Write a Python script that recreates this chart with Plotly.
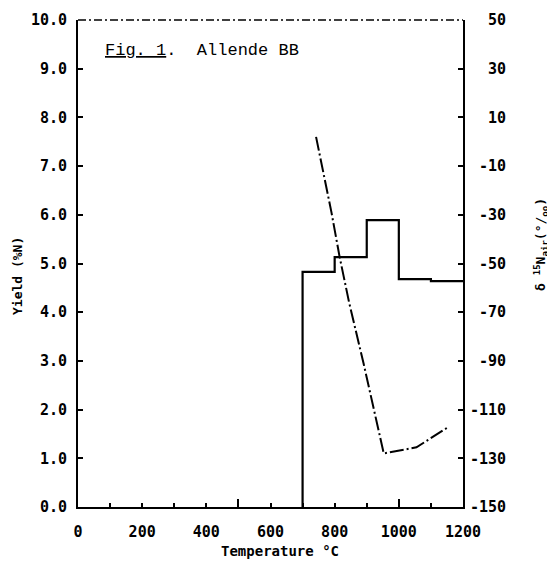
import plotly.graph_objects as go

# Yield step data (%N), temperature steps (deg C)
step_start = [700, 800, 900, 1000, 1100]
step_end = 1200
yield_pct = [4.83, 5.13, 5.89, 4.68, 4.64]

# delta 15N curve (permil) vs temperature
d15_temp = [742, 765, 790, 815, 845, 890, 920, 942, 953, 1055, 1150]
d15_val = [2, -13, -29, -47, -66, -91, -109, -121, -128, -125.5, -117.5]

# tick labels
x_label_vals = [0, 200, 400, 600, 800, 1000, 1200]
y_left_vals = [0, 1, 2, 3, 4, 5, 6, 7, 8, 9, 10]
y_right_vals = [-150, -130, -110, -90, -70, -50, -30, -10, 10, 30, 50]

TICKFONT = dict(family="DejaVu Sans Mono", size=15, color="black", weight=700)

step_x = [step_start[0]] + step_start + [step_end]
step_y = [0] + yield_pct + [yield_pct[-1]]

fig = go.Figure()
fig.add_trace(go.Scatter(x=step_x, y=step_y, mode="lines", line_shape="hv",
                         line=dict(color="black", width=2.2), showlegend=False,
                         hoverinfo="skip"))
fig.add_trace(go.Scatter(x=d15_temp, y=d15_val, mode="lines", xaxis="x2", yaxis="y2",
                         line=dict(color="black", width=2, dash="14px,3px,2px,3px"),
                         showlegend=False, hoverinfo="skip"))

xt_vals = list(range(0, 1201, 100))
xt_text = [str(v) if v in x_label_vals else "" for v in xt_vals]

right_text = [("\u00a0" * (4 - len(str(v)))) + str(v) for v in y_right_vals]

# page body has an 8px margin: figure occupies screen 8..555 x 8..562
W, H = 547, 554
PL, PR, PT, PB = 70, 455, 12, 499  # plot area in figure pixels

def px(X):  # screen x -> paper x
    return (X - 8 - PL) / (PR - PL)

def py(Y):  # screen y -> paper y
    return (PB - (Y - 8)) / (PB - PT)

fig.update_layout(
    width=W, height=H,
    margin=dict(l=PL, r=W - PR, t=PT, b=H - PB, autoexpand=False),
    paper_bgcolor="white", plot_bgcolor="white",
    xaxis=dict(range=[0, 1200], tickmode="array", tickvals=xt_vals, ticktext=xt_text,
               ticks="inside", ticklen=4, tickwidth=1.5, tickcolor="black",
               showline=True, linecolor="black", linewidth=2, showgrid=False,
               zeroline=False, tickfont=TICKFONT, ticklabelstandoff=10, automargin=False),
    xaxis2=dict(range=[0, 1200], overlaying="x", tickmode="array", tickvals=[500, 1000],
                ticks="inside", ticklen=8, tickwidth=1.5, tickcolor="black",
                showticklabels=False, showline=False, showgrid=False, zeroline=False,
                side="bottom", anchor="y", automargin=False),
    yaxis=dict(range=[0, 10], tickmode="array", tickvals=y_left_vals,
               ticktext=[f"{v:.1f}" for v in y_left_vals],
               ticks="inside", ticklen=5, tickwidth=1.5, tickcolor="black",
               showline=True, linecolor="black", linewidth=2, showgrid=False,
               zeroline=False, tickfont=TICKFONT, ticklabelstandoff=6, automargin=False),
    yaxis2=dict(range=[-150, 50], overlaying="y", side="right", anchor="x",
                tickmode="array", tickvals=y_right_vals, ticktext=right_text,
                ticks="inside", ticklen=5, tickwidth=1.5, tickcolor="black",
                showline=True, linecolor="black", linewidth=2, showgrid=False,
                zeroline=False, tickfont=TICKFONT, ticklabelstandoff=2, automargin=False),
    shapes=[dict(type="line", xref="paper", yref="paper", x0=0, x1=1, y0=1, y1=1,
                 line=dict(color="black", width=1.5, dash="8px,3px,2px,3px"))],
    annotations=[
        dict(text="<u>Fig. 1</u>.  Allende BB", x=px(103), y=py(50),
             xref="paper", yref="paper", xanchor="left", yanchor="middle", showarrow=False,
             font=dict(family="Liberation Mono", size=17, color="black")),
        dict(text="Yield (%N)", x=px(17), y=py(276),
             xref="paper", yref="paper", xanchor="center", yanchor="middle", showarrow=False,
             textangle=-90, font=dict(family="DejaVu Sans Mono", size=13, color="black",
                                      weight=700)),
        dict(text="Temperature °C", x=px(280), y=py(551),
             xref="paper", yref="paper", xanchor="center", yanchor="middle", showarrow=False,
             font=dict(family="DejaVu Sans Mono", size=14, color="black", weight=700)),
        dict(text="δ <sup>15</sup>N<sub>air</sub>(°/<sub>oo</sub>)", x=px(541),
             y=py(245), xref="paper", yref="paper", xanchor="center",
             yanchor="middle", showarrow=False, textangle=-90,
             font=dict(family="DejaVu Sans Mono", size=13, color="black", weight=700)),
    ],
)

fig.write_html("out.html")
